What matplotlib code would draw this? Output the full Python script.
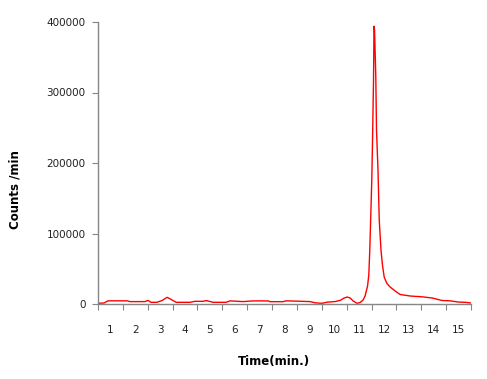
import matplotlib.pyplot as plt
import numpy as np

# chromatogram (time in min, counts per min)
time_min = [0.50, 0.74, 0.90, 1.67, 1.79, 2.39, 2.51, 2.63, 2.87, 3.08,
            3.28, 3.48, 3.64, 4.20, 4.40, 4.73, 4.85, 5.01, 5.13, 5.65,
            5.81, 6.33, 6.74, 7.34, 7.42, 7.94, 8.07, 9.03, 9.23, 9.51,
            9.72, 10.04, 10.24, 10.40, 10.52, 10.64, 10.76, 10.92, 11.04, 11.16,
            11.24, 11.34, 11.39, 11.43, 11.47, 11.51, 11.54, 11.58, 11.60, 11.62,
            11.67, 11.70, 11.76, 11.81, 11.88, 11.94, 12.01, 12.12, 12.25, 12.45,
            12.65, 13.06, 13.53, 13.94, 14.33, 14.66, 14.99, 15.27, 15.51]
counts = [1000, 1400, 4500, 4500, 3400, 3400, 5100, 2400, 2400, 5000,
          9500, 5700, 2400, 2400, 3800, 3800, 4800, 3500, 2400, 2400,
          4400, 3400, 4400, 4400, 3300, 3300, 4500, 3400, 1700, 1000,
          2600, 3500, 5200, 8500, 9900, 8500, 4300, 1000, 2100, 5700,
          11300, 25500, 41000, 76500, 126000, 176000, 232000, 318000, 394000, 389000,
          325000, 247000, 190000, 119000, 76500, 55000, 38000, 29000, 24000, 18400,
          13500, 11300, 10200, 8500, 5000, 4500, 2800, 2400, 1400]

minute_labels = [str(i) for i in range(1, 16)]
y_ticks = [0, 100000, 200000, 300000, 400000]

fig = plt.figure(figsize=(4.87, 3.79), dpi=100)
ax = fig.add_axes([98 / 487, 75 / 379, 373 / 487, 282 / 379])

ax.plot(time_min, counts, color='#ff0000', lw=1.0)

ax.set_xlim(0.5, 15.5)
ax.set_ylim(0, 400000)

# category style axis: tick marks between labels
ax.set_xticks(np.arange(0.5, 15.6, 1.0))
ax.set_xticklabels([])
ax.set_xticks(np.arange(1, 16), minor=True)
ax.set_xticklabels(minute_labels, minor=True)
ax.tick_params(axis='x', which='major', direction='out', length=4, color='#868686')
ax.tick_params(axis='x', which='minor', length=0, pad=15, labelsize=7.5, labelcolor='#222222')

ax.set_yticks(y_ticks)
ax.set_yticklabels([str(v) for v in y_ticks])
ax.tick_params(axis='y', direction='out', length=4, color='#868686', pad=5,
               labelsize=7.5, labelcolor='#222222')

for side in ['top', 'right']:
    ax.spines[side].set_visible(False)
for side in ['left', 'bottom']:
    ax.spines[side].set_color('#868686')
    ax.spines[side].set_linewidth(1.0)

fig.text(15 / 487, 1 - 190 / 379, 'Counts /min', rotation=90, ha='center', va='center',
         fontsize=8.5, fontweight='bold')
fig.text(274 / 487, 1 - 361 / 379, 'Time(min.)', ha='center', va='center',
         fontsize=8.5, fontweight='bold')

fig.savefig('out.png', dpi=100)
